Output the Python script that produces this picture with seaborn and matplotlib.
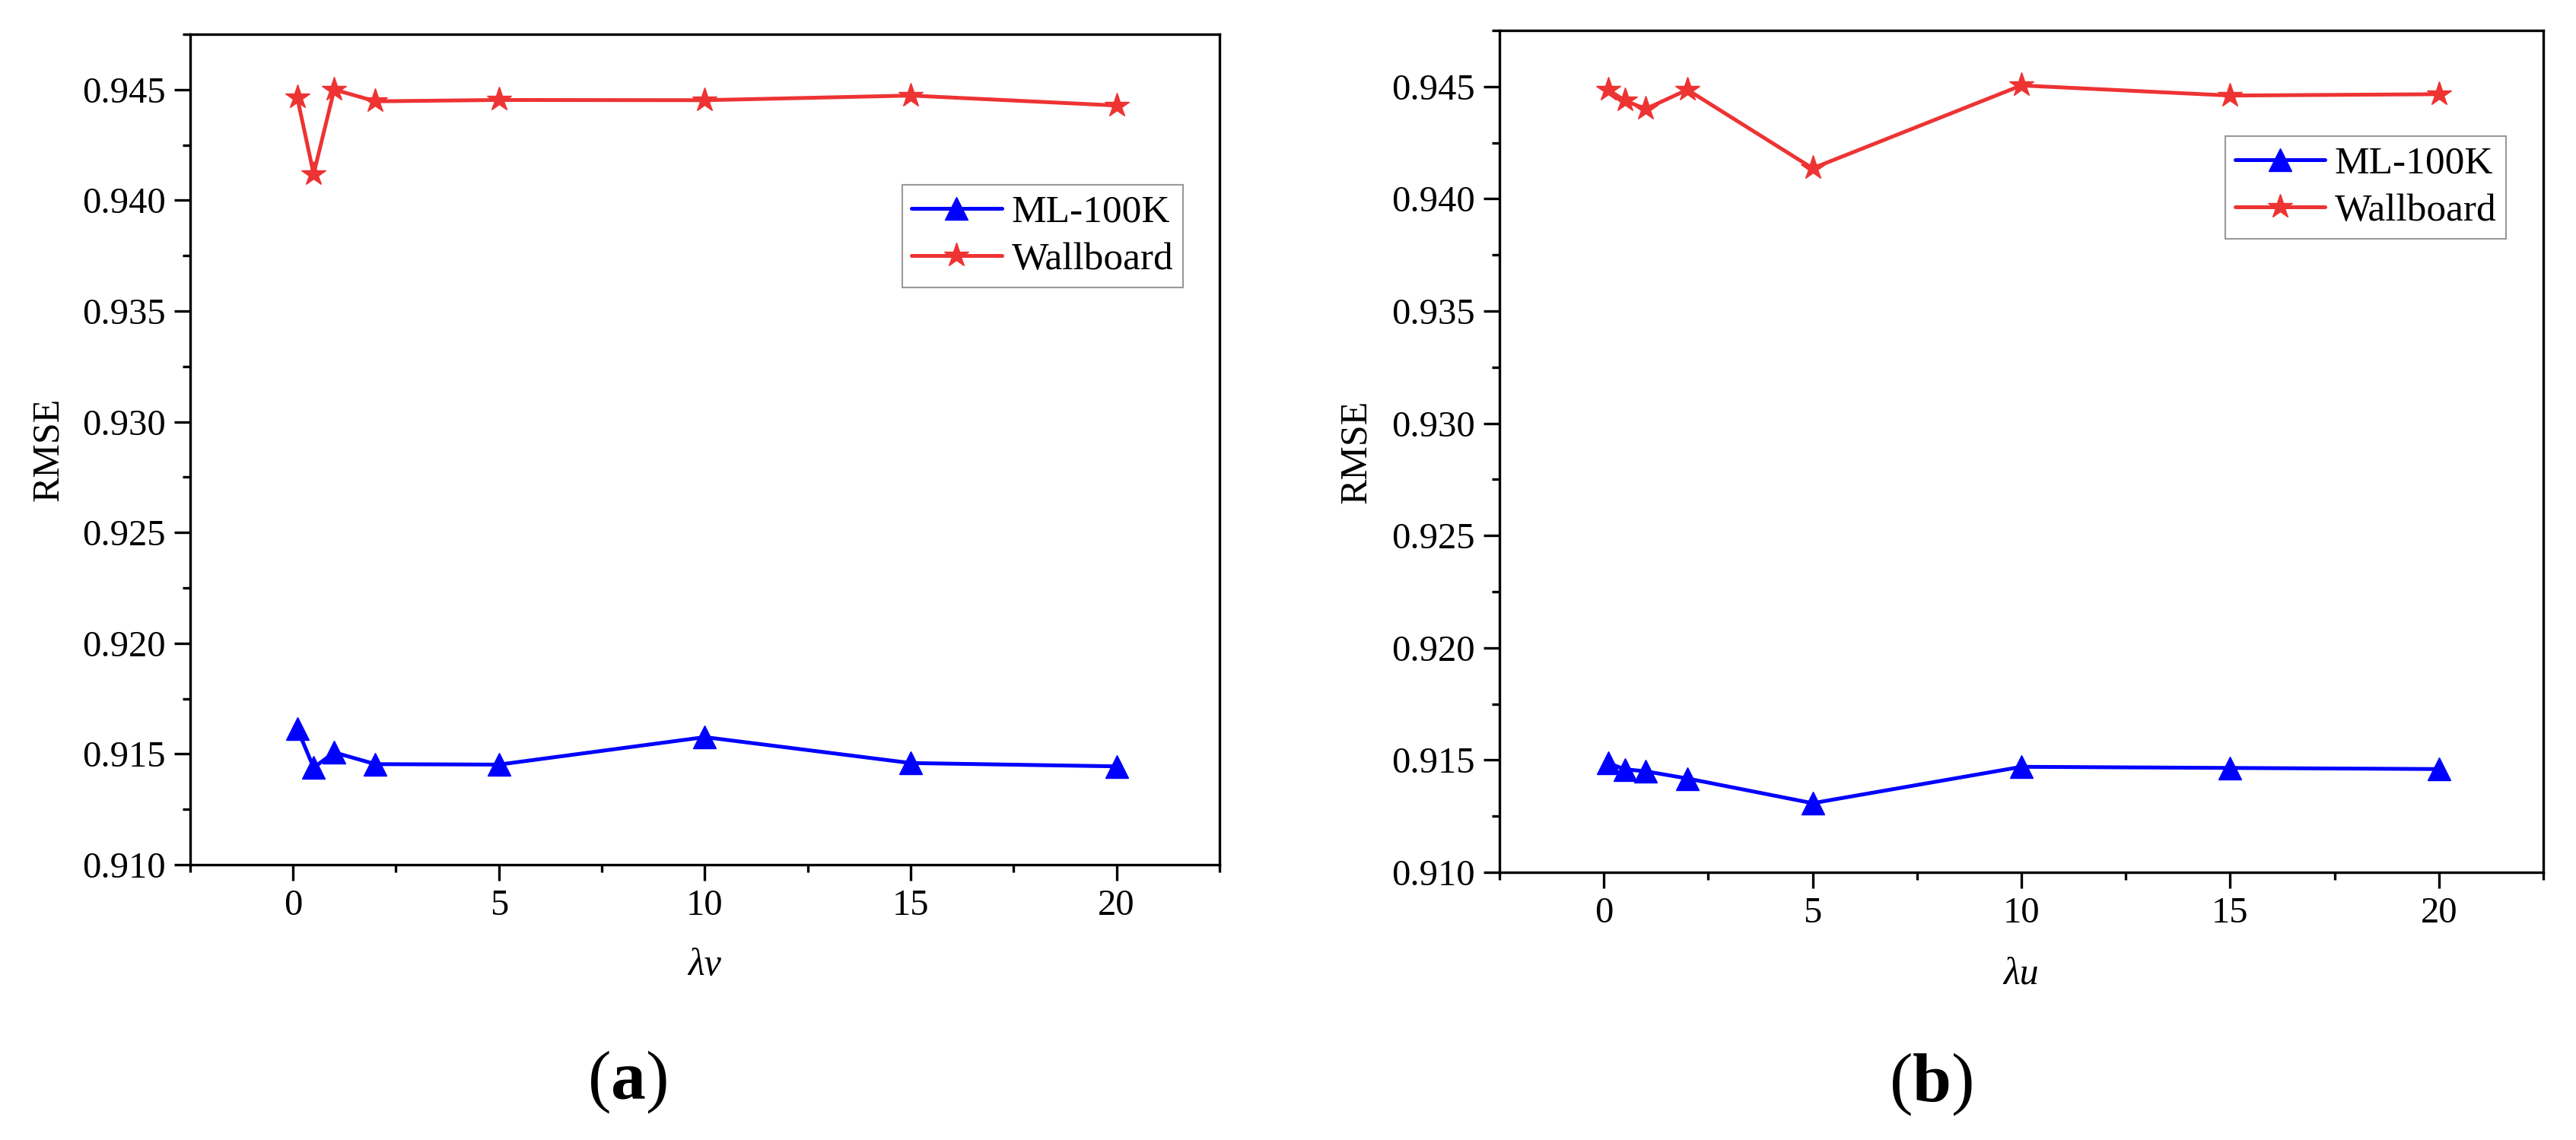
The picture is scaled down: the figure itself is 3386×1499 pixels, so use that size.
import matplotlib
matplotlib.use("Agg")
import matplotlib.pyplot as plt
import seaborn as sns
import pandas as pd
from matplotlib.ticker import MultipleLocator, FormatStrFormatter

# values
lam = [0.1, 0.5, 1, 2, 5, 10, 15, 20]
a_ml = [0.91616, 0.91438, 0.91507, 0.91454, 0.91452, 0.91576, 0.91459, 0.91444]
a_wall = [0.94466, 0.94119, 0.94500, 0.94447, 0.94453, 0.94452, 0.94473, 0.94428]
b_ml = [0.91487, 0.91459, 0.91450, 0.91418, 0.91308, 0.91470, 0.91465, 0.91460]
b_wall = [0.94486, 0.94438, 0.94400, 0.94486, 0.94136, 0.94505, 0.94460, 0.94466]

x_labels = ["λv", "λu"]
series_names = ["ML-100K", "Wallboard"]

sns.set_theme(style="ticks")
plt.rcParams["font.family"] = ["Liberation Serif", "DejaVu Serif"]
plt.rcParams["mathtext.fontset"] = "custom"
plt.rcParams["mathtext.rm"] = "Liberation Serif"
plt.rcParams["mathtext.bf"] = "Liberation Serif:bold"
plt.rcParams["mathtext.it"] = "Liberation Serif:italic"
for key in ["text.color", "axes.labelcolor", "xtick.color", "ytick.color", "axes.edgecolor"]:
    plt.rcParams[key] = "black"

BLUE = "#0000FF"
RED = "#EE3333"


def draw_panel(ax, ml, wall, xlab, legend_anchor):
    df_ml = pd.DataFrame({"lam": lam, "rmse": ml})
    df_wall = pd.DataFrame({"lam": lam, "rmse": wall})
    sns.lineplot(data=df_ml, x="lam", y="rmse", ax=ax, color=BLUE, marker="^",
                 markersize=21, markeredgecolor=BLUE, markeredgewidth=1,
                 linewidth=3.6, label=series_names[0])
    sns.lineplot(data=df_wall, x="lam", y="rmse", ax=ax, color=RED, marker="*",
                 markersize=24, markeredgecolor=RED, markeredgewidth=1,
                 linewidth=3.6, label=series_names[1])

    ax.set_xlim(-2.5, 22.5)
    ax.set_ylim(0.910, 0.9475)
    ax.xaxis.set_major_locator(MultipleLocator(5))
    ax.xaxis.set_minor_locator(MultipleLocator(2.5))
    ax.yaxis.set_major_locator(MultipleLocator(0.005))
    ax.yaxis.set_minor_locator(MultipleLocator(0.0025))
    ax.yaxis.set_major_formatter(FormatStrFormatter("%.3f"))
    ax.tick_params(which="major", direction="out", length=15, width=2.4,
                   labelsize=35, pad=8, top=False, right=False)
    ax.tick_params(which="minor", direction="out", length=7.5, width=2.4,
                   top=False, right=False)
    for sp in ax.spines.values():
        sp.set_visible(True)
        sp.set_linewidth(2.4)
        sp.set_color("black")

    ax.set_xlabel(xlab, fontsize=36, fontstyle="italic")
    ax.set_ylabel("RMSE", fontsize=36)
    ax.xaxis.set_label_coords(0.5, -0.1)
    ax.yaxis.set_label_coords(-0.12, 0.5)

    leg = ax.legend(loc="upper right", bbox_to_anchor=legend_anchor,
                    borderaxespad=0, fontsize=37, frameon=True, fancybox=False,
                    edgecolor="#808080", handlelength=2.3, handletextpad=0.25,
                    labelspacing=0.3, borderpad=0.25, numpoints=1)
    leg.get_frame().set_linewidth(1.5)


fig = plt.figure(figsize=(33.86, 14.99), dpi=100)
ax1 = fig.add_axes([0.0738, 0.2415, 0.3996, 0.7285])
ax2 = fig.add_axes([0.5821, 0.2348, 0.4052, 0.7385])

draw_panel(ax1, a_ml, a_wall, x_labels[0], (0.9645, 0.8187))
draw_panel(ax2, b_ml, b_wall, x_labels[1], (0.9643, 0.8744))

fig.text(0.2434, 0.0507, r"($\mathbf{a}$)", fontsize=66, ha="center", va="center")
fig.text(0.7497, 0.0487, r"($\mathbf{b}$)", fontsize=66, ha="center", va="center")

fig.savefig("out.png", dpi=100, facecolor="white")
